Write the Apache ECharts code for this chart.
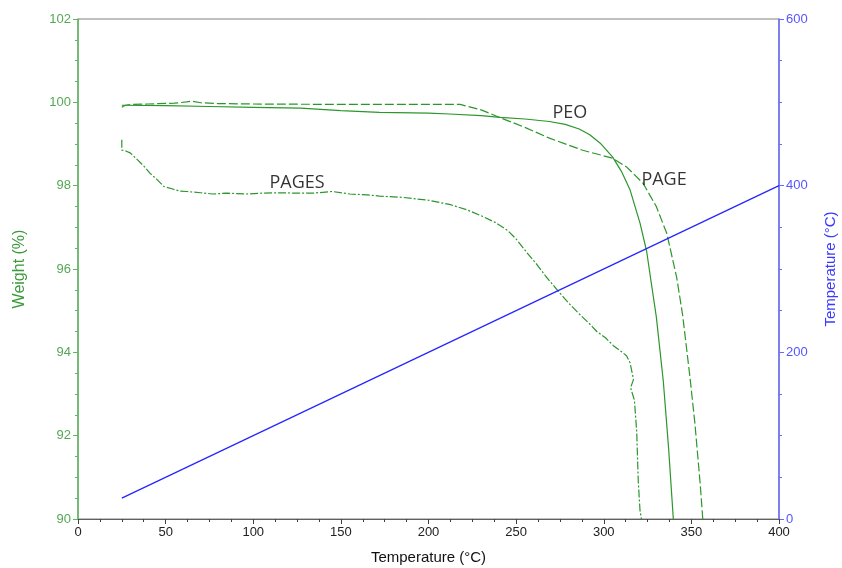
<!DOCTYPE html>
<html>
<head>
<meta charset="utf-8">
<script src="https://cdn.jsdelivr.net/npm/echarts@6/dist/echarts.min.js"></script>
<style>html,body{margin:0;padding:0;background:#fff;}#chart{width:842px;height:568px;}</style>
</head>
<body>
<div id="chart"></div>
<script>
// ---- data ----
const peoTemp = [25,50,75,100,127,150,172,200,212,230,241,255,269,278,286,292,298,305,310,315,320.7,324.5,327,330,334,337,339.7];
const peoWeight = [99.93,99.92,99.9,99.88,99.86,99.8,99.76,99.74,99.72,99.68,99.64,99.6,99.54,99.47,99.36,99.22,99.02,98.69,98.35,97.9,97.1,96.42,95.7,94.85,93.3,91.7,90];

const pageTemp = [25,27,30,40,55,62,65,70,80,100,150,200,218,230,241,255,269,288,305,313,322.4,330,336,341.6,345,349.2,352,355,356.5];
const pageWeight = [99.88,99.93,99.95,99.96,99.98,100.01,100.03,99.99,99.97,99.96,99.95,99.95,99.95,99.82,99.63,99.4,99.14,98.85,98.66,98.45,98.06,97.5,96.85,95.8,94.9,93.4,92.3,90.86,90];

const pagesTemp = [25,25,27,30,34,38,41,45,49,54,58,62,70,77,85,96,105,115,125,134,145,155,165,172,185,200,212,222,231,238,245,250,256,262,267,273,280,287,292,296,301,305.5,310,313,315,316,317,315.3,317.5,318.8,319.7,320.7,321.5];
const pagesWeight = [99.1,98.85,98.84,98.78,98.62,98.45,98.3,98.15,97.98,97.92,97.87,97.86,97.83,97.8,97.82,97.8,97.82,97.83,97.82,97.82,97.86,97.8,97.78,97.75,97.72,97.65,97.55,97.42,97.26,97.12,96.93,96.72,96.4,96.1,95.82,95.52,95.18,94.88,94.68,94.5,94.35,94.16,94.02,93.92,93.75,93.55,93.35,93.15,92.85,92.1,90.9,90.2,90];

const rampTime = [25,400];
const rampTemp = [25,400];

const labelNames = ['PEO','PAGE','PAGES'];
const labelX = [280.7,334.4,125];
const labelY = [99.74,98.14,98.06];

const xTicks = {min:0,max:400,interval:50};
const yLeftTicks = {min:90,max:102,interval:2};
const yRightTicks = {min:0,max:600,interval:200};

// ---- chart ----
const zip = (a,b) => a.map((v,i)=>[v,b[i]]);
const green = '#2b962b';
const chart = echarts.init(document.getElementById('chart'));
chart.setOption({
  animation:false,
  backgroundColor:'#fff',
  grid:{left:78,right:63,top:19,bottom:49,show:true,borderColor:'#808080',borderWidth:1,outerBoundsMode:'none',containLabel:false},
  xAxis:{
    type:'value',min:xTicks.min,max:xTicks.max,interval:xTicks.interval,
    name:'Temperature (°C)',nameLocation:'middle',nameGap:31,
    nameTextStyle:{color:'#111',fontSize:15,fontFamily:'Liberation Sans, Arial, sans-serif'},
    axisLine:{lineStyle:{color:'#606060',width:1}},
    axisTick:{show:true,length:5,lineStyle:{color:'#404040'}},
    minorTick:{show:true,splitNumber:4,length:3,lineStyle:{color:'#404040'}},
    axisLabel:{color:'#222',fontSize:13,margin:7,fontFamily:'Liberation Sans, Arial, sans-serif'},
    splitLine:{show:false}
  },
  yAxis:[{
    type:'value',position:'left',min:yLeftTicks.min,max:yLeftTicks.max,interval:yLeftTicks.interval,
    name:'Weight (%)',nameLocation:'middle',nameGap:50,nameRotate:90,
    nameTextStyle:{color:'#3a9a3a',fontSize:16,fontFamily:'Liberation Sans, Arial, sans-serif'},
    axisLine:{show:true,lineStyle:{color:'#5cb85c',width:1.5}},
    axisTick:{show:true,length:5,lineStyle:{color:'#5cb85c'}},
    minorTick:{show:true,splitNumber:4,length:3,lineStyle:{color:'#5cb85c'}},
    axisLabel:{color:'#55a855',fontSize:13,margin:7,fontFamily:'Liberation Sans, Arial, sans-serif'},
    splitLine:{show:false}
  },{
    type:'value',position:'right',min:yRightTicks.min,max:yRightTicks.max,interval:yRightTicks.interval,
    name:'Temperature (°C)',nameLocation:'middle',nameGap:44,nameRotate:90,
    nameTextStyle:{color:'#3a3aff',fontSize:15,fontFamily:'Liberation Sans, Arial, sans-serif'},
    axisLine:{show:true,lineStyle:{color:'#6a6aff',width:1.5}},
    axisTick:{show:true,length:5,lineStyle:{color:'#6a6aff'}},
    minorTick:{show:true,splitNumber:4,length:3,lineStyle:{color:'#6a6aff'}},
    axisLabel:{color:'#5555ff',fontSize:13,margin:7,fontFamily:'Liberation Sans, Arial, sans-serif'},
    splitLine:{show:false}
  }],
  series:[
    {name:'PEO',type:'line',yAxisIndex:0,showSymbol:false,symbol:'none',data:zip(peoTemp,peoWeight),
     lineStyle:{color:green,width:1.2,type:'solid'},clip:true},
    {name:'PAGE',type:'line',yAxisIndex:0,showSymbol:false,symbol:'none',data:zip(pageTemp,pageWeight),
     lineStyle:{color:green,width:1.2,type:[9,3]},clip:true},
    {name:'PAGES',type:'line',yAxisIndex:0,showSymbol:false,symbol:'none',data:zip(pagesTemp,pagesWeight),
     lineStyle:{color:green,width:1.2,type:[8,2,2,2]},clip:true},
    {name:'Temp',type:'line',yAxisIndex:1,showSymbol:false,symbol:'none',data:zip(rampTime,rampTemp),
     lineStyle:{color:'#2424ff',width:1.2}},
    {name:'labels',type:'scatter',yAxisIndex:0,symbol:'circle',symbolSize:1,
     itemStyle:{color:'rgba(0,0,0,0)'},
     data:labelNames.map((n,i)=>({name:n,value:[labelX[i],labelY[i]]})),
     label:{show:true,position:'inside',formatter:p=>p.name,color:'#000',fontSize:18,fontFamily:'Open Sans, sans-serif'},
     silent:true,z:10}
  ]
});
</script>
</body>
</html>
